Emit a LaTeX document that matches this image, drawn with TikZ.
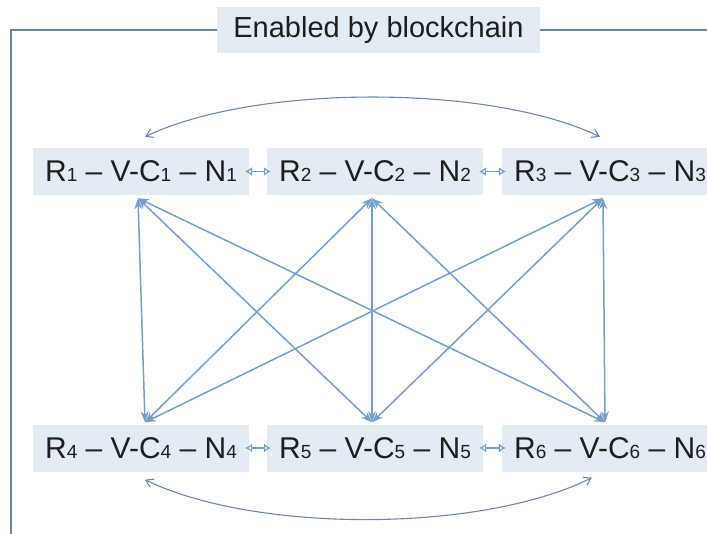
\documentclass[tikz,border=0pt]{standalone}
\usepackage{fontspec}
\setmainfont{Liberation Sans}
\usetikzlibrary{arrows.meta,calc}
\definecolor{boxfill}{RGB}{227,235,244}
\definecolor{framecol}{RGB}{105,130,165}
\definecolor{arrcol}{RGB}{118,158,205}
\definecolor{txtcol}{RGB}{30,30,30}
\newcommand{\sbn}[1]{{\fontsize{19}{19}\selectfont #1}}
\tikzset{
  nodebox/.style={fill=boxfill, text=txtcol, minimum width=216pt, minimum height=47pt, inner sep=0pt, font=\fontsize{30}{30}\selectfont},
  titlebox/.style={fill=boxfill, text=txtcol, minimum width=323pt, minimum height=46pt, inner sep=0pt, font=\fontsize{29}{29}\selectfont},
  framel/.style={draw=framecol, line width=1.3pt},
  link/.style={draw=arrcol, line width=1.5pt, {Stealth[length=11pt,width=8pt]}-{Stealth[length=11pt,width=8pt]}},
  curvelink/.style={draw=framecol!80!arrcol, line width=1.1pt, {Straight Barb[length=7pt,width=9pt]}-{Straight Barb[length=7pt,width=9pt]}},
  smalllink/.style={draw=arrcol, line width=1.2pt, {Latex[open,length=7pt,width=9pt]}-{Latex[open,length=7pt,width=9pt]}}
}
\begin{document}
\begin{tikzpicture}[x=1pt,y=-1pt]
\useasboundingbox (0,0) rectangle (707,533);
% frame
\coordinate (fa) at (11,545);
\coordinate (fb) at (11,30);
\coordinate (fc) at (720,30);
\draw[framel] (fa) -- (fb) -- (fc);
\node[titlebox] (title) at (378.5,30) {Enabled by blockchain};
% nodes
\node[nodebox] (r1) at (141,171.5) {R\sbn{1} – V-C\sbn{1} – N\sbn{1}};
\node[nodebox] (r2) at (375,171.5) {R\sbn{2} – V-C\sbn{2} – N\sbn{2}};
\node[nodebox] (r3) at (610,171.5) {R\sbn{3} – V-C\sbn{3} – N\sbn{3}};
\node[nodebox] (r4) at (141,448) {R\sbn{4} – V-C\sbn{4} – N\sbn{4}};
\node[nodebox] (r5) at (375,448) {R\sbn{5} – V-C\sbn{5} – N\sbn{5}};
\node[nodebox] (r6) at (610,448) {R\sbn{6} – V-C\sbn{6} – N\sbn{6}};
% endpoints of diagonal links
\coordinate (t1) at ([xshift=-3pt,yshift=-3pt]r1.south);
\coordinate (t2) at ([xshift=-3pt,yshift=-3pt]r2.south);
\coordinate (t3) at ([xshift=-7pt,yshift=-3pt]r3.south);
\coordinate (b4) at ([xshift=4pt,yshift=2pt]r4.north);
\coordinate (b5) at ([xshift=-3pt,yshift=2pt]r5.north);
\coordinate (b6) at ([xshift=-5pt,yshift=2pt]r6.north);
\foreach \a in {t1,t2,t3}{
  \foreach \b in {b4,b5,b6}{
    \draw[link] (\a) -- (\b);
  }
}
% small double arrows
\draw[smalllink] ([xshift=-4pt]r1.east) -- ([xshift=4pt]r2.west);
\draw[smalllink] ([xshift=-4pt]r2.east) -- ([xshift=4pt]r3.west);
\draw[smalllink] ([xshift=-4pt]r4.east) -- ([xshift=4pt]r5.west);
\draw[smalllink] ([xshift=-4pt]r5.east) -- ([xshift=4pt]r6.west);
% curved links
\coordinate (c1) at ([xshift=4pt,yshift=11pt]r1.north);
\coordinate (c3) at ([xshift=-10pt,yshift=11pt]r3.north);
\coordinate (c4) at ([xshift=4pt,yshift=-8pt]r4.south);
\coordinate (c6) at ([xshift=-18pt,yshift=-6pt]r6.south);
\draw[curvelink] (c1) .. controls (255,84) and (490,84) .. (c3);
\draw[curvelink] (c4) .. controls (255,533) and (480,533) .. (c6);
\end{tikzpicture}
\end{document}
